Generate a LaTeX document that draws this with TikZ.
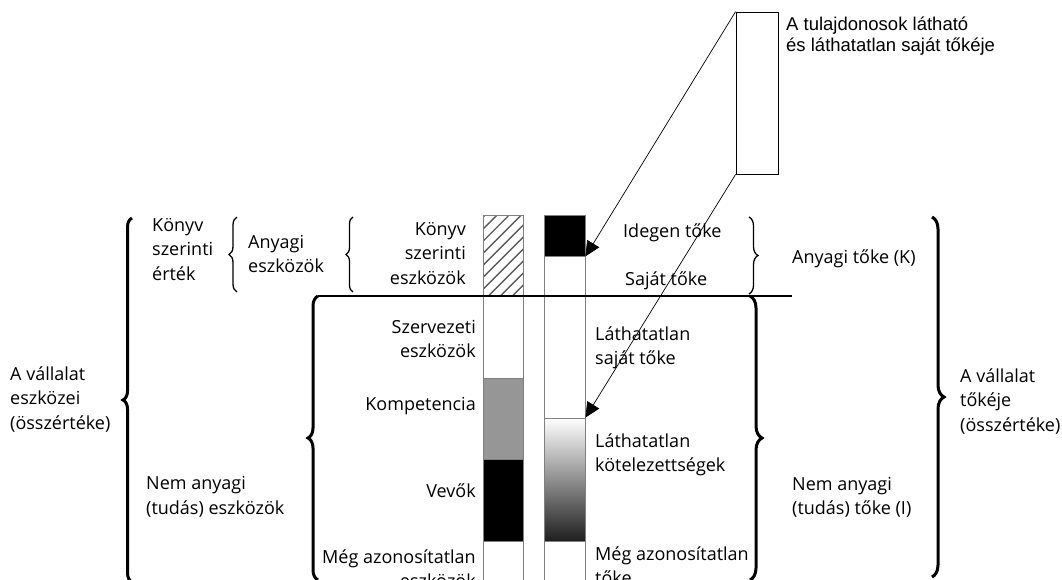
\documentclass[tikz,border=0pt]{standalone}
\usepackage{fontspec}
\setmainfont{Open Sans}
\newfontfamily\arialfont{Liberation Sans}
\usetikzlibrary{decorations.pathreplacing,patterns.meta,arrows.meta}
\definecolor{barline}{RGB}{128,128,128}
\definecolor{midgray}{RGB}{150,150,150}
\definecolor{hatchc}{RGB}{90,90,90}
\begin{document}
\begin{tikzpicture}[x=1pt,y=1pt,
  lbl/.style={inner sep=0pt, align=left, anchor=base west, font=\fontsize{18}{24.5}\selectfont},
  lblr/.style={inner sep=0pt, align=right, anchor=base east, font=\fontsize{18}{24.5}\selectfont},
  seg/.style={rectangle, draw=barline, line width=0.8pt, minimum width=40pt, inner sep=0pt},
  segR/.style={seg, minimum width=41pt},
  thickb/.style={decorate, line width=3pt},
  thinb/.style={decorate, line width=1.3pt},
  arr/.style={line width=0.7pt, -{Triangle[length=15pt,width=14pt]}}
]
\useasboundingbox (0,0) rectangle (1062,-580);
% left bar
\node[seg, pattern={Lines[angle=45,distance=8.5pt,line width=1.4pt]}, pattern color=hatchc, minimum height=81pt] (konyv) at (503,-255.5) {};
\node[seg, fill=white, minimum height=82pt] (szerv) at (503,-337) {};
\node[seg, fill=midgray, minimum height=81pt] (komp) at (503,-418.5) {};
\node[seg, fill=black, minimum height=82pt] (vevo) at (503,-500) {};
\node[seg, fill=white, minimum height=60pt] (megl) at (503,-571) {};
% right bar
\node[segR, fill=black, minimum height=41pt] (idegen) at (564.5,-235.5) {};
\node[segR, fill=white, minimum height=40pt] (sajat) at (564.5,-276) {};
\node[segR, fill=white, minimum height=122pt] (lsaj) at (564.5,-357) {};
\node[segR, top color=white, bottom color=black!88, minimum height=123pt] (lkot) at (564.5,-479.5) {};
\node[segR, fill=white, minimum height=60pt] (megr) at (564.5,-571) {};
% horizontal line
\coordinate (hl) at (318,-296);
\coordinate (hr) at (792,-296);
\draw[line width=2.8pt] (hl) -- (hr);
% top box and arrows
\node[draw, line width=0.8pt, minimum width=42pt, minimum height=162pt, inner sep=0pt] (tbox) at (757,-93) {};
\node[anchor=base west, inner sep=0pt, align=left, font=\arialfont\fontsize{18.5}{20.5}\selectfont] (tboxl) at (786,-51.5) {A tulajdonosok látható\\és láthatatlan saját tőkéje};
\draw[arr] (tbox.north west) -- (idegen.south east);
\draw[arr] (tbox.south west) -- (lkot.north east);
% braces
\draw[thickb, decoration={brace,amplitude=9pt}] (132,-582) -- (132,-218);
\draw[thickb, decoration={brace,amplitude=10pt}] (318,-580) -- (318,-296);
\draw[thinb, decoration={brace,amplitude=8pt}] (237,-292) -- (237,-217);
\draw[thinb, decoration={brace,amplitude=7pt}] (353,-292) -- (353,-217);
\draw[thinb, decoration={brace,amplitude=9pt}] (749,-217) -- (749,-294);
\draw[thickb, decoration={brace,amplitude=12pt}] (750,-296) -- (750,-580);
\draw[thickb, decoration={brace,amplitude=12pt}] (932,-217) -- (932,-577);
% left texts (anchor = baseline of last line)
\node[lbl] (t1) at (152,-280) {Könyv\\szerinti\\érték};
\node[lbl] (t2) at (248,-272.5) {Anyagi\\eszközök};
\node[lblr] (t3) at (466,-284) {Könyv\\szerinti\\eszközök};
\node[lbl] (t4) at (10,-429) {A vállalat\\eszközei\\(összértéke)};
\node[lbl] (t5) at (146,-514) {Nem anyagi\\(tudás) eszközök};
\node[lblr] (t6) at (476,-357.5) {Szervezeti\\eszközök};
\node[lblr] (t7) at (476,-410) {Kompetencia};
\node[lblr] (t8) at (476,-497) {Vevők};
\node[lblr] (t9) at (476,-587.5) {Még azonosítatlan\\eszközök};
% right texts
\node[lbl] (r1) at (623,-237) {Idegen tőke};
\node[lbl] (r2) at (625,-285) {Saját tőke};
\node[lbl] (r3) at (595,-364.5) {Láthatatlan\\saját tőke};
\node[lbl] (r4) at (595,-471.5) {Láthatatlan\\kötelezettségek};
\node[lbl] (r5) at (595,-584.5) {Még azonosítatlan\\tőke};
\node[lbl] (r6) at (792,-263) {Anyagi tőke (K)};
\node[lbl] (r7) at (792,-514.5) {Nem anyagi\\(tudás) tőke (I)};
\node[lbl] (r8) at (960,-431) {A vállalat\\tőkéje\\(összértéke)};
\end{tikzpicture}
\end{document}
